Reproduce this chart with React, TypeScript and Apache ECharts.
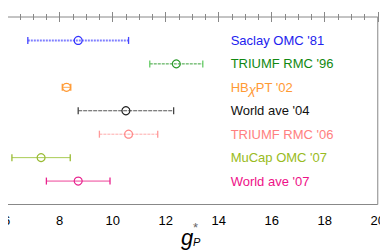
import React, { useEffect, useRef } from "react";
import * as echarts from "echarts";

const experiments = [
  "Saclay OMC '81",
  "TRIUMF RMC '96",
  "HBχPT '02",
  "World ave '04",
  "TRIUMF RMC '06",
  "MuCap OMC '07",
  "World ave '07",
];
const centralValues = [8.7, 12.4, 8.26, 10.5, 10.6, 7.3, 8.7];
const lowerValues = [6.8, 11.4, 8.1, 8.7, 9.5, 6.2, 7.5];
const upperValues = [10.6, 13.4, 8.42, 12.3, 11.7, 8.4, 9.9];
const xMin = 6;
const xMax = 20;
const xStep = 2;
const xMinorStep = 0.5;

const markColors = ["#3333ff", "#2a9a2a", "#ff9933", "#222222", "#ff8888", "#99bb33", "#e8228e"];
const barColors = ["#8080ff", "#3aa03a", "#ffaa55", "#555555", "#ffaaaa", "#aacc55", "#ee4499"];
const capColors = ["#4444ff", "#66cc66", "#ff9933", "#444444", "#ff9999", "#99bb33", "#e8228e"];
const barWidths = [2, 1, 1, 1, 1, 1, 1];
const barDashes: (number[] | null)[] = [[2, 1], [3, 1], null, [4, 1], [3, 1], null, null];
const textColors = ["#2222ee", "#118811", "#ff9933", "#111111", "#ff8080", "#99bb22", "#ee1188"];

const LABEL_X = 14.45;

export default function App() {
  const ref = useRef<HTMLDivElement>(null);
  useEffect(() => {
    if (!ref.current) return;
    const chart = echarts.init(ref.current, undefined, { renderer: "svg" });
    const data = experiments.map((name, i) => [lowerValues[i], upperValues[i], centralValues[i], i + 1, i]);
    const font = "'Liberation Sans', Arial, sans-serif";
    const axisCommon = {
      type: "value" as const,
      min: xMin,
      max: xMax,
      axisLine: { show: false },
      splitLine: { show: false },
      minorSplitLine: { show: false },
    };
    chart.setOption({
      animation: false,
      grid: {
        left: 3.5,
        right: 8,
        top: 17,
        bottom: 46.5,
        show: true,
        borderColor: "#888",
        borderWidth: 1,
        backgroundColor: "transparent",
      },
      xAxis: [
        {
          ...axisCommon,
          interval: xStep,
          position: "bottom",
          axisTick: { show: true, inside: true, length: 5, lineStyle: { color: "#888" } },
          minorTick: { show: true, splitNumber: 4, length: 3, lineStyle: { color: "#888" } },
          axisLabel: { fontSize: 13, color: "#000", fontFamily: font, margin: 9, showMinLabel: true },
        },
        {
          ...axisCommon,
          interval: xMinorStep,
          position: "top",
          axisTick: { show: true, inside: true, length: 3, lineStyle: { color: "#888" } },
          minorTick: { show: false },
          axisLabel: { show: false },
        },
        {
          ...axisCommon,
          interval: xStep,
          position: "top",
          axisTick: { show: true, inside: true, length: 5, lineStyle: { color: "#888" } },
          minorTick: { show: false },
          axisLabel: { show: false },
        },
      ],
      yAxis: { type: "value", min: 0, max: 8, inverse: true, show: false },
      graphic: [
        {
          type: "text",
          left: 181,
          top: 226,
          style: { text: "g", fontSize: 22, fontStyle: "italic", fontFamily: font, fill: "#000" },
        },
        {
          type: "text",
          left: 193,
          top: 221,
          style: { text: "*", fontSize: 13, fontFamily: font, fill: "#666" },
        },
        {
          type: "text",
          left: 193,
          top: 236,
          style: { text: "P", fontSize: 11, fontStyle: "italic", fontFamily: font, fill: "#000" },
        },
      ],
      series: [
        {
          type: "custom",
          xAxisIndex: 0,
          data,
          renderItem: (params: any, api: any) => {
            const i = api.value(4);
            const lo = api.coord([api.value(0), api.value(3)]);
            const hi = api.coord([api.value(1), api.value(3)]);
            const c = api.coord([api.value(2), api.value(3)]);
            const lab = api.coord([LABEL_X, api.value(3)]);
            const name = experiments[i];
            const isChi = name.indexOf("χ") >= 0;
            const parts = name.split("χ");
            const text = isChi ? parts[0] + "{chi|χ}" + parts[1] : name;
            const lineStyle: any = { stroke: barColors[i], lineWidth: barWidths[i] };
            if (barDashes[i]) lineStyle.lineDash = barDashes[i];
            return {
              type: "group",
              children: [
                {
                  type: "line",
                  shape: { x1: lo[0], y1: lo[1], x2: hi[0], y2: hi[1] },
                  style: lineStyle,
                },
                {
                  type: "line",
                  shape: { x1: lo[0], y1: lo[1] - 3.5, x2: lo[0], y2: lo[1] + 3.5 },
                  style: { stroke: capColors[i], lineWidth: 1.3 },
                },
                {
                  type: "line",
                  shape: { x1: hi[0], y1: hi[1] - 3.5, x2: hi[0], y2: hi[1] + 3.5 },
                  style: { stroke: capColors[i], lineWidth: 1.3 },
                },
                {
                  type: "circle",
                  shape: { cx: c[0], cy: c[1], r: 4 },
                  style: { fill: "none", stroke: markColors[i], lineWidth: 1.2 },
                },
                {
                  type: "text",
                  x: lab[0],
                  y: lab[1],
                  style: {
                    text,
                    fontSize: 13,
                    fontFamily: font,
                    fill: textColors[i],
                    verticalAlign: "middle",
                    align: "left",
                    rich: {
                      chi: { fontSize: 13, fontStyle: "italic", fontFamily: font, fill: textColors[i], padding: [5, 0, 0, 0] },
                    },
                  },
                },
              ],
            };
          },
        },
      ],
    });
    return () => chart.dispose();
  }, []);
  return <div ref={ref} style={{ width: 388, height: 251, marginLeft: -8, marginTop: -8 }} />;
}
